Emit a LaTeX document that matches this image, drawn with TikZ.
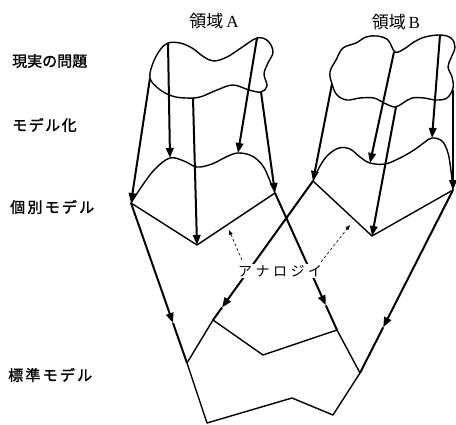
\documentclass[tikz,border=0pt]{standalone}
\usepackage{fontspec}
\setmainfont{Liberation Serif}
\newfontfamily\jp{Noto Sans CJK JP}
\usetikzlibrary{arrows.meta,calc}
\begin{document}
\begin{tikzpicture}[x=1pt,y=-1pt,
  outline/.style={line width=1.4pt, line join=round},
  heavy/.style={line width=2pt},
  arr/.style={heavy,-{Triangle[length=10pt,width=7.5pt]}},
  dasharr/.style={line width=0.6pt, dash pattern=on 3pt off 2pt, -{Triangle[length=5pt,width=3.5pt]}},
  lbl/.style={anchor=west, inner sep=0pt, font=\jp\fontsize{15}{15}\selectfont},
  dom/.style={inner sep=0pt, font=\fontsize{17}{17}\selectfont},
]
\useasboundingbox (0,0) rectangle (456,424);

% ---- domain A coordinates
\coordinate (aT1) at (150,78);
\coordinate (aT2) at (168,43);
\coordinate (aT3) at (193,98);
\coordinate (aT4) at (257,38);
\coordinate (aT5) at (261,92);
\coordinate (aL) at (131,203);
\coordinate (aP1) at (170,158);
\coordinate (aP2) at (238,153);
\coordinate (aR) at (275,193);
\coordinate (aB) at (197,245);
% ---- domain B coordinates
\coordinate (bT1) at (332,84);
\coordinate (bT2) at (394,52);
\coordinate (bT3) at (396,107);
\coordinate (bT4) at (440,35);
\coordinate (bT5) at (453,90);
\coordinate (bL) at (313,181);
\coordinate (bP1) at (370,163);
\coordinate (bP2) at (432,138);
\coordinate (bR) at (453,190);
\coordinate (bB) at (372,236);
% ---- standard model
\coordinate (s1) at (213,320);
\coordinate (s2) at (263,355);
\coordinate (s3) at (337,330);
\coordinate (sL) at (187,363);
\coordinate (sR) at (360,373);
\coordinate (t1) at (207,423);
\coordinate (t2) at (292,398);
\coordinate (t3) at (333,415);

% top blob A
\draw[outline] plot[smooth cycle, tension=0.6] coordinates {(168,43) (180,43) (192,48) (204,57) (214,61) (227,57) (241,48) (257,38) (268,41) (273,52) (268,63) (264,74) (267,86) (261,92) (249,90) (233,85) (217,90) (200,97) (186,98) (172,96) (159,89) (150,78) (153,63) (160,50)};
% middle contour A
\draw[outline] plot[smooth, tension=0.6] coordinates {(131,203) (142,186) (155,169) (170,158) (184,161) (197,167) (212,164) (226,157) (238,153) (252,156) (263,166) (270,181) (275,193)};
\draw[outline] (aL) -- (aB) -- (aR);

% top blob B
\draw[outline] plot[smooth cycle, tension=0.6] coordinates {(332,84) (330,72) (336,60) (343,48) (356,43) (366,37) (377,36) (388,40) (395,52) (404,49) (414,42) (425,37) (440,35) (451,38) (455,47) (451,58) (448,67) (452,77) (453,88) (447,98) (436,100) (424,98) (412,98) (403,103) (395,107) (384,103) (374,98) (360,98) (347,100) (337,95)};
% middle contour B
\draw[outline] plot[smooth, tension=0.6] coordinates {(313,181) (320,166) (328,155) (339,148) (350,149) (360,157) (370,163) (385,164) (400,158) (414,150) (425,142) (432,138) (442,141) (448,153) (451,171) (453,190)};
\draw[outline] (bL) -- (bB) -- (bR);

% standard model
\draw[outline] (sL) -- (s1) -- (s2) -- (s3) -- (sR);
\draw[outline] (sL) -- (t1) -- (t2) -- (t3) -- (sR);

% modelling arrows A
\draw[arr] (aT1) -- (aL);
\draw[arr] (aT2) -- (aP1);
\draw[arr] (aT3) -- (aB);
\draw[arr] (aT4) -- (aP2);
\draw[arr] (aT5) -- (aR);
% modelling arrows B
\draw[arr] (bT1) -- (bL);
\draw[arr] (bT2) -- (bP1);
\draw[arr] (bT3) -- (bB);
\draw[arr] (bT4) -- (bP2);
\draw[arr] (bT5) -- (bR);

% standardisation arrows
\coordinate (mA1) at ($(aL)!0.75!(sL)$);
\coordinate (mA2) at ($(aR)!0.82!(s3)$);
\coordinate (mB1) at ($(bL)!0.91!(s1)$);
\coordinate (mB2) at ($(bR)!0.75!(sR)$);
\draw[arr] (aL) -- (mA1);
\draw[heavy] (mA1) -- (sL);
\draw[arr] (aR) -- (mA2);
\draw[heavy] (mA2) -- (s3);
\draw[arr] (bL) -- (mB1);
\draw[heavy] (mB1) -- (s1);
\draw[arr] (bR) -- (mB2);
\draw[heavy] (mB2) -- (sR);

% analogy
\node[fill=white, inner sep=1pt, font=\jp\fontsize{14}{14}\selectfont] (ana) at (280,271) {ア\hspace{3.5pt}ナ\hspace{3.5pt}ロ\hspace{3.5pt}ジ\hspace{3.5pt}イ};
\coordinate (anaA) at (242,260);
\coordinate (anaB) at (321,262);
\coordinate (tipA) at (229,230);
\coordinate (tipB) at (350,225);
\draw[dasharr] (anaA) -- (tipA);
\draw[dasharr] (anaB) -- (tipB);

% labels
\node[dom] (domA) at (214,21) {{\jp 領域}\,A};
\node[dom] (domB) at (396,22) {{\jp 領域}\,B};
\node[lbl] (l1) at (12,61) {\addfontfeature{FakeBold=1.5}現実の問題};
\node[lbl] (l2) at (12,125) {\addfontfeature{FakeBold=1.5,LetterSpace=10}モデル化};
\node[lbl] (l3) at (10,207) {\addfontfeature{FakeBold=1.5,LetterSpace=15}個別モデル};
\node[lbl] (l4) at (8,375) {\addfontfeature{FakeBold=1.5,LetterSpace=15}標準モデル};
\end{tikzpicture}
\end{document}
